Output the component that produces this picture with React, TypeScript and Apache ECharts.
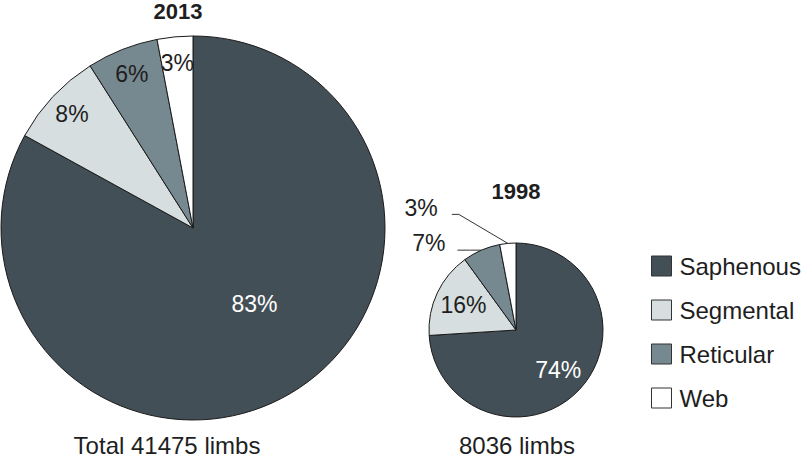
import React, { useEffect, useRef } from 'react';
import * as echarts from 'echarts';

const categories = ['Saphenous', 'Segmental', 'Reticular', 'Web'];
const values2013 = [83, 8, 6, 3];
const values1998 = [74, 16, 7, 3];
const sliceColors = ['#434f56', '#d6dee0', '#778990', '#ffffff'];
const labelColors = ['#ffffff', '#1e1e1e', '#1e1e1e', '#1e1e1e'];
const yearTitles = ['2013', '1998'];
const totalLabels = ['Total 41475 limbs', '8036 limbs'];

const FONT = '"Liberation Sans", Arial, Helvetica, sans-serif';
const TEXT = '#1e1e1e';
const FS = 23;
const FS_BIG = 24;

function makeData(vals: number[], showIdx: number[], position: string) {
  return vals.map((v, i) => ({
    name: categories[i],
    value: v,
    itemStyle: { color: sliceColors[i] },
    label: {
      show: showIdx.includes(i),
      position,
      color: labelColors[i],
    },
  }));
}

function makeOverlay(vals: number[], showIdx: number[]) {
  return vals.map((v, i) => ({
    name: categories[i],
    value: v,
    itemStyle: { color: 'rgba(0,0,0,0)', borderWidth: 0 },
    label: { show: showIdx.includes(i), position: 'inside', color: labelColors[i] },
  }));
}

export default function App() {
  const ref = useRef<HTMLDivElement>(null);
  useEffect(() => {
    document.body.style.margin = '0';
    const chart = echarts.init(ref.current!, null, { renderer: 'svg' });
    const baseLabel = { formatter: '{c}%', fontSize: FS, fontFamily: FONT };
    const option: any = {
      animation: false,
      textStyle: { fontFamily: FONT },
      legend: {
        data: categories,
        orient: 'vertical',
        left: 651,
        top: 254,
        padding: 0,
        itemWidth: 20,
        itemHeight: 20,
        itemGap: 20,
        icon: 'rect',
        selectedMode: false,
        itemStyle: { borderColor: '#333', borderWidth: 1 },
        textStyle: { fontSize: FS_BIG, color: TEXT, fontFamily: FONT, padding: [0, 0, 0, 3] },
      },
      graphic: [
        { type: 'text', x: 178, y: 11, style: { text: yearTitles[0], font: `bold 22px ${FONT}`, fill: TEXT, align: 'center', verticalAlign: 'middle' } },
        { type: 'text', x: 516, y: 191, style: { text: yearTitles[1], font: `bold 22px ${FONT}`, fill: TEXT, align: 'center', verticalAlign: 'middle' } },
        { type: 'text', x: 167, y: 445, style: { text: totalLabels[0], font: `${FS_BIG}px ${FONT}`, fill: TEXT, align: 'center', verticalAlign: 'middle' } },
        { type: 'text', x: 517, y: 445, style: { text: totalLabels[1], font: `${FS_BIG}px ${FONT}`, fill: TEXT, align: 'center', verticalAlign: 'middle' } },
      ],
      series: [
        {
          type: 'pie',
          silent: true,
          center: [193, 228],
          radius: [0, 192],
          avoidLabelOverlap: false,
          itemStyle: { borderColor: '#1a1a1a', borderWidth: 1 },
          label: { ...baseLabel },
          labelLine: { show: false },
          labelLayout: (p: any) => {
            const r = p.labelRect;
            if (!r || p.dataIndex !== 0) return {};
            return { x: r.x + r.width / 2 + 11, y: r.y + r.height / 2 - 9, align: 'center', verticalAlign: 'middle' };
          },
          data: makeData(values2013, [0], 'inside'),
        },
        {
          type: 'pie',
          silent: true,
          center: [193, 228],
          radius: [134, 192],
          avoidLabelOverlap: false,
          label: { ...baseLabel },
          labelLine: { show: false },
          data: makeOverlay(values2013, [1, 2, 3]),
        },
        {
          type: 'pie',
          silent: true,
          center: [516, 330],
          radius: [0, 87],
          avoidLabelOverlap: false,
          itemStyle: { borderColor: '#1a1a1a', borderWidth: 1 },
          label: { ...baseLabel },
          labelLine: { show: true, length: 10, length2: 10, lineStyle: { color: '#333', width: 1 } },
          labelLayout: (p: any) => {
            const pts = p.labelLinePoints;
            if (!pts || !pts[0] || (p.dataIndex !== 2 && p.dataIndex !== 3)) return {};
            const x0 = pts[0][0];
            const y0 = pts[0][1];
            if (p.dataIndex === 2) {
              return {
                x: x0 - 36, y: y0 - 7, align: 'right', verticalAlign: 'middle',
                labelLinePoints: [[x0, y0], [x0 - 12, y0], [x0 - 24, y0]],
              };
            }
            return {
              x: x0 - 70, y: y0 - 35, align: 'right', verticalAlign: 'middle',
              labelLinePoints: [[x0, y0], [x0 - 49, y0 - 29], [x0 - 56, y0 - 29]],
            };
          },
          data: makeData(values1998, [2, 3], 'outside'),
        },
        {
          type: 'pie',
          silent: true,
          center: [516, 330],
          radius: [23, 87],
          avoidLabelOverlap: false,
          label: { ...baseLabel },
          labelLine: { show: false },
          data: makeOverlay(values1998, [0, 1]),
        },
      ],
    };
    chart.setOption(option);
    return () => chart.dispose();
  }, []);
  return <div ref={ref} style={{ width: 805, height: 459 }} />;
}
